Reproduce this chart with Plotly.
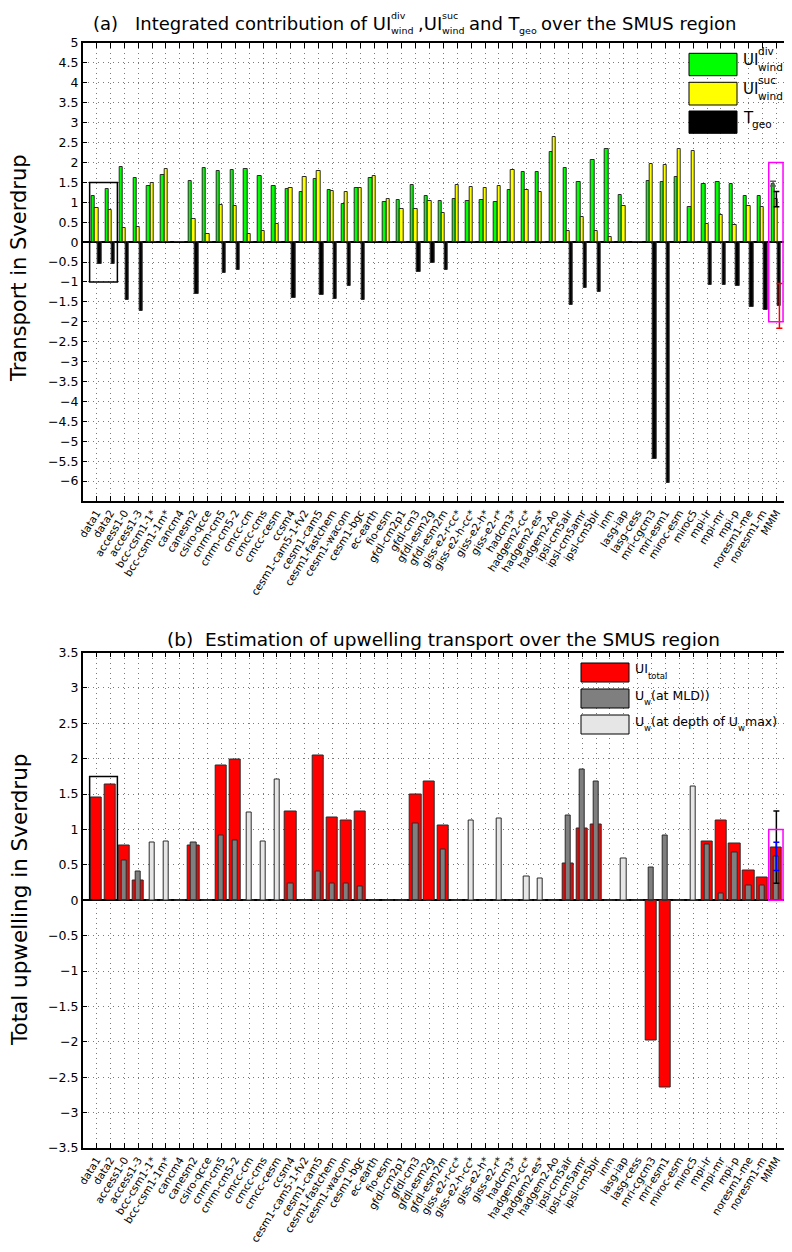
import plotly.graph_objects as go

# The page body has an 8px margin; the visible area ends near x = 784,
# so the figure occupies window pixels 8..784 horizontally.
OX, OY = 8, 8
FW, FH = 776, 1236
FONT = "DejaVu Sans"

models = ["data1", "data2", "access1-0", "access1-3", "bcc-csm1-1*", "bcc-csm1-1m*",
          "cancm4", "canesm2", "csiro-qcce", "cnrm-cm5", "cnrm-cm5-2", "cmcc-cm",
          "cmcc-cms", "cmcc-cesm", "ccsm4", "cesm1-cam5-1-fv2", "cesm1-cam5",
          "cesm1-fastchem", "cesm1-wacom", "cesm1-bgc", "ec-earth", "fio-esm",
          "gfdl-cm2p1", "gfdl-cm3", "gfdl-esm2g", "gfdl-esm2m", "giss-e2-r-cc*",
          "giss-e2-h-cc*", "giss-e2-h*", "giss-e2-r*", "hadcm3*", "hadgem2-cc*",
          "hadgem2-es*", "hadgem2-Ao", "ipsl-cm5alr", "ipsl-cm5amr", "ipsl-cm5blr",
          "inm", "lasg-iap", "lasg-cess", "mri-cgcm3", "mri-esm1", "miroc-esm",
          "miroc5", "mpi-lr", "mpi-mr", "mpi-p", "noresm1-me", "noresm1-m", "MMM"]

# panel (a)
ui_div = [1.15, 1.33, 1.88, 1.62, 1.40, 1.69, 0.0, 1.53, 1.86, 1.78,
          1.82, 1.83, 1.66, 1.41, 1.33, 1.25, 1.58, 1.31, 0.95, 1.36,
          1.62, 1.01, 1.07, 1.43, 1.17, 1.03, 1.08, 1.03, 1.06, 1.00,
          1.31, 1.77, 1.75, 2.26, 1.85, 1.52, 2.06, 2.35, 1.18, 0.0,
          1.53, 1.51, 1.64, 0.89, 1.47, 1.52, 1.47, 1.16, 1.16, 1.47]
ui_suc = [0.85, 0.80, 0.36, 0.39, 1.49, 1.83, 0.0, 0.57, 0.21, 0.92,
          0.91, 0.21, 0.28, 0.46, 1.35, 1.64, 1.79, 1.29, 1.26, 1.36,
          1.66, 1.09, 0.82, 0.82, 1.03, 0.72, 1.43, 1.39, 1.35, 1.41,
          1.80, 1.32, 1.27, 2.65, 0.27, 0.64, 0.27, 0.13, 0.90, 0.0,
          1.96, 1.93, 2.35, 2.28, 0.45, 0.69, 0.43, 0.90, 0.88, 1.08]
t_geo = [-0.54, -0.54, -1.45, -1.72, 0.0, 0.0, 0.0, -1.31, 0.0, -0.78,
         -0.71, 0.0, 0.0, 0.0, -1.41, 0.0, -1.32, -1.42, -1.09, -1.46,
         0.0, 0.0, 0.0, -0.76, -0.52, -0.70, 0.0, 0.0, 0.0, 0.0,
         0.0, 0.0, 0.0, 0.0, -1.59, -1.16, -1.26, 0.0, 0.0, 0.0,
         -5.44, -6.05, 0.0, 0.0, -1.08, -1.08, -1.09, -1.62, -1.70, -1.60]
mmm_err_a = [0.06, 0.19, 0.56]   # spread of MMM for div, suc, geo

# panel (b)
ui_total = [1.45, 1.64, 0.78, 0.28, 0.0, 0.0, 0.0, 0.77, 0.0, 1.90,
            1.99, 0.0, 0.0, 0.0, 1.25, 0.0, 2.05, 1.17, 1.12, 1.26,
            0.0, 0.0, 0.0, 1.49, 1.68, 1.05, 0.0, 0.0, 0.0, 0.0,
            0.0, 0.0, 0.0, 0.0, 0.52, 1.01, 1.07, 0.0, 0.0, 0.0,
            -1.98, -2.65, 0.0, 0.0, 0.83, 1.13, 0.80, 0.42, 0.32, 0.75]
uw_mld = [0.0, 0.0, 0.56, 0.40, 0.0, 0.0, 0.0, 0.82, 0.0, 0.92,
          0.85, 0.0, 0.0, 0.0, 0.24, 0.0, 0.41, 0.23, 0.24, 0.20,
          0.0, 0.0, 0.0, 1.08, 0.0, 0.71, 0.0, 0.0, 0.0, 0.0,
          0.0, 0.0, 0.0, 0.0, 1.20, 1.85, 1.68, 0.0, 0.0, 0.0,
          0.46, 0.91, 0.0, 0.0, 0.79, 0.10, 0.68, 0.21, 0.21, 0.62]
uw_max = [0.0, 0.0, 0.0, 0.0, 0.82, 0.83, 0.0, 0.0, 0.0, 0.0,
          0.0, 1.24, 0.83, 1.70, 0.0, 0.0, 0.0, 0.0, 0.0, 0.0,
          0.0, 0.0, 0.0, 0.0, 0.0, 0.0, 0.0, 1.13, 0.0, 1.16,
          0.0, 0.33, 0.31, 0.0, 0.0, 0.0, 0.0, 0.0, 0.59, 0.0,
          0.0, 0.0, 0.0, 1.61, 0.0, 0.0, 0.0, 0.0, 0.0, 0.0]
mmm_err_b = [0.51, 0.20]   # spread of MMM for total, mld

yticks_a = [5, 4.5, 4, 3.5, 3, 2.5, 2, 1.5, 1, 0.5, 0, -0.5, -1, -1.5, -2, -2.5,
            -3, -3.5, -4, -4.5, -5, -5.5, -6]
yticks_b = [3.5, 3, 2.5, 2, 1.5, 1, 0.5, 0, -0.5, -1, -1.5, -2, -2.5, -3, -3.5]

box_a = [-1.0, 1.5]
box_a_mmm = [-2.0, 2.0]
box_b = [0.0, 1.75]
box_b_mmm = [0.0, 1.0]

xpos = list(range(1, len(models) + 1))
n_mmm = models.index("MMM") + 1


def PX(x):
    return (x - OX) / FW


def PY(y):
    return 1 - (y - OY) / FH


EDGE = dict(color="#2a2a2a", width=1)

fig = go.Figure()
# ---- panel (a) bars
fig.add_trace(go.Bar(x=xpos, y=ui_div, width=0.24, offset=-0.36, name="UI div wind",
                     marker=dict(color="#00ff00", line=EDGE), xaxis="x", yaxis="y"))
fig.add_trace(go.Bar(x=xpos, y=ui_suc, width=0.24, offset=-0.12, name="UI suc wind",
                     marker=dict(color="#ffff00", line=EDGE), xaxis="x", yaxis="y"))
fig.add_trace(go.Bar(x=xpos, y=t_geo, width=0.24, offset=0.10, name="T geo",
                     marker=dict(color="#000000", line=EDGE), xaxis="x", yaxis="y"))
for off, val, err, col in [(-0.24, ui_div[-1], mmm_err_a[0], "#606060"),
                           (0.0, ui_suc[-1], mmm_err_a[1], "#000000"),
                           (0.22, t_geo[-1], mmm_err_a[2], "#ff0000")]:
    fig.add_trace(go.Scatter(x=[n_mmm + off], y=[val], mode="markers",
                             marker=dict(size=1, color="rgba(0,0,0,0)"),
                             error_y=dict(type="data", array=[err], color=col,
                                          thickness=1.5, width=3),
                             xaxis="x", yaxis="y", hoverinfo="skip"))

# ---- panel (b) bars
fig.add_trace(go.Bar(x=xpos, y=ui_total, width=0.81, name="UI total",
                     marker=dict(color="#ff0000", line=EDGE), xaxis="x2", yaxis="y2"))
fig.add_trace(go.Bar(x=xpos, y=uw_mld, width=0.38, name="Uw at MLD",
                     marker=dict(color="#7f7f7f", line=EDGE), xaxis="x2", yaxis="y2"))
fig.add_trace(go.Bar(x=xpos, y=uw_max, width=0.38, name="Uw at depth of Uw max",
                     marker=dict(color="#e6e6e6", line=EDGE), xaxis="x2", yaxis="y2"))
for off, val, err, col in [(0.0, ui_total[-1], mmm_err_b[0], "#000000"),
                           (0.0, uw_mld[-1], mmm_err_b[1], "#0000ff")]:
    fig.add_trace(go.Scatter(x=[n_mmm + off], y=[val], mode="markers",
                             marker=dict(size=1, color="rgba(0,0,0,0)"),
                             error_y=dict(type="data", array=[err], color=col,
                                          thickness=1.5, width=3),
                             xaxis="x2", yaxis="y2", hoverinfo="skip"))

# ---- axes
XR = [0, 50.55]
xd = [PX(82.7), 1.0]
ya_dom = [PY(501), PY(43)]
yb_dom = [PY(1148), PY(652.5)]
GRID = "#7a7a7a"
DASH = "1px,4px"


def xaxis(anchor):
    return dict(domain=xd, range=XR, anchor=anchor, tickmode="array", tickvals=xpos,
                ticktext=models, tickangle=-58,
                tickfont=dict(family=FONT, size=10.5, color="black"),
                ticks="inside", ticklen=5, tickcolor="black", showline=True,
                linecolor="black", linewidth=1.5, mirror="ticks", showgrid=True,
                gridcolor=GRID, griddash=DASH, gridwidth=1, zeroline=False,
                automargin=False)


def yaxis(dom, rng, tv, anchor):
    return dict(domain=dom, range=rng, anchor=anchor, tickmode="array", tickvals=tv,
                ticktext=[("%g" % v).replace("-", "−") for v in tv],
                tickfont=dict(family=FONT, size=12.5, color="black"),
                ticks="inside", ticklen=5, tickcolor="black", showline=True,
                linecolor="black", linewidth=1.5, mirror=False, showgrid=True,
                gridcolor=GRID, griddash=DASH, gridwidth=1, zeroline=True,
                zerolinecolor="black", zerolinewidth=1.5, automargin=False)


fig.update_layout(
    width=FW, height=FH, margin=dict(l=0, r=0, t=0, b=0, pad=0), template="none",
    paper_bgcolor="white", plot_bgcolor="white", showlegend=False,
    barmode="overlay", bargap=0,
    xaxis=xaxis("y"), yaxis=yaxis(ya_dom, [-6.5, 5], yticks_a, "x"),
    xaxis2=xaxis("y2"), yaxis2=yaxis(yb_dom, [-3.5, 3.5], yticks_b, "x2"),
)

# ---- highlight boxes
shapes = [
    dict(type="rect", xref="x", yref="y", x0=0.5, x1=2.5, y0=box_a[0], y1=box_a[1],
         line=dict(color="black", width=1.5)),
    dict(type="rect", xref="x", yref="y", x0=n_mmm - 0.55, x1=n_mmm + 0.48,
         y0=box_a_mmm[0], y1=box_a_mmm[1], line=dict(color="#ff00ff", width=1.5)),
    dict(type="rect", xref="x2", yref="y2", x0=0.5, x1=2.5, y0=box_b[0], y1=box_b[1],
         line=dict(color="black", width=1.5)),
    dict(type="rect", xref="x2", yref="y2", x0=n_mmm - 0.55, x1=n_mmm + 0.48,
         y0=box_b_mmm[0], y1=box_b_mmm[1], line=dict(color="#ff00ff", width=1.5)),
]

# ---- text helpers
WID = {' ': .318, '(': .390, ')': .390, ',': .318, '.': .318, '*': .5, '−': .838, '-': .361,
       'a': .613, 'b': .635, 'c': .550, 'd': .635, 'e': .615, 'f': .352, 'g': .635, 'h': .634,
       'i': .278, 'j': .278, 'k': .579, 'l': .278, 'm': .974, 'n': .634, 'o': .612, 'p': .635,
       'q': .635, 'r': .411, 's': .521, 't': .392, 'u': .634, 'v': .592, 'w': .818, 'x': .592,
       'y': .592, 'z': .525, 'A': .684, 'D': .770, 'E': .632, 'I': .295, 'L': .557, 'M': .863,
       'S': .635, 'T': .611, 'U': .732}


def tw(s, size):
    return sum(WID.get(c, .636) for c in s) * size


def txt(px, py, s, size, xanchor="left", angle=0):
    return dict(x=PX(px), y=PY(py), xref="paper", yref="paper", text=s, showarrow=False,
                xanchor=xanchor, yanchor="middle", textangle=angle, borderpad=0,
                font=dict(family=FONT, size=size, color="black"))


def rich(px, py, parts, size, small, sup_dy, sub_dy):
    out = []
    x = px
    for p in parts:
        k = p[0]
        if k == "n":
            out.append(txt(x, py, p[1], size)); x += tw(p[1], size)
        elif k == "sub":
            out.append(txt(x, py + sub_dy, p[1], small)); x += tw(p[1], small)
        elif k == "ss":
            out.append(txt(x, py + sup_dy, p[1], small))
            out.append(txt(x, py + sub_dy, p[2], small))
            x += max(tw(p[1], small), tw(p[2], small))
        elif k == "sp":
            x += p[1]
    return out


ann = []
# title (a)
ann += rich(92, 23.5, [("n", "(a)"), ("sp", 17), ("n", "Integrated contribution of UI"),
                       ("ss", "div", "wind"), ("sp", 4), ("n", ",UI"), ("ss", "suc", "wind"),
                       ("sp", 4), ("n", "and T"), ("sub", "geo"), ("sp", 4),
                       ("n", "over the SMUS region")], 18, 9.5, -8, 7)
# title (b)
ann.append(txt(443, 639, "(b)  Estimation of upwelling transport over the SMUS region", 18.5,
               xanchor="center"))
# y titles
ann.append(txt(19, 268, "Transport in Sverdrup", 21, xanchor="center", angle=-90))
ann.append(txt(19, 900, "Total upwelling in Sverdrup", 21.5, xanchor="center", angle=-90))

# legend (a)
leg_a = [("#00ff00", 53.3, 75.7, [("n", "UI"), ("ss", "div", "wind")]),
         ("#ffff00", 82.3, 105.0, [("n", "UI"), ("ss", "suc", "wind")]),
         ("#000000", 111.0, 133.3, [("n", "T"), ("sub", "geo")])]
for col, y0, y1, parts in leg_a:
    shapes.append(dict(type="rect", xref="paper", yref="paper", x0=PX(689), x1=PX(737),
                       y0=PY(y1), y1=PY(y0), fillcolor=col,
                       line=dict(color="black", width=1)))
    ann += rich(741.5, (y0 + y1) / 2 - 4.5, parts, 15, 10.5, -9, 6.5)

# legend (b)
leg_b = [("#ff0000", 663, 682, [("n", "UI"), ("sub", "total")]),
         ("#7f7f7f", 689, 708, [("n", "U"), ("sub", "w"), ("n", "(at MLD))")]),
         ("#e6e6e6", 715, 734, [("n", "U"), ("sub", "w"), ("n", "(at depth of U"),
                                ("sub", "w"), ("n", "max)")])]
for col, y0, y1, parts in leg_b:
    shapes.append(dict(type="rect", xref="paper", yref="paper", x0=PX(581), x1=PX(629),
                       y0=PY(y1), y1=PY(y0), fillcolor=col,
                       line=dict(color="black", width=1)))
    ann += rich(634, (y0 + y1) / 2 - 3.5, parts, 12.5, 8.5, -8, 6.5)

fig.update_layout(shapes=shapes, annotations=ann)
fig.write_html("out.html")
